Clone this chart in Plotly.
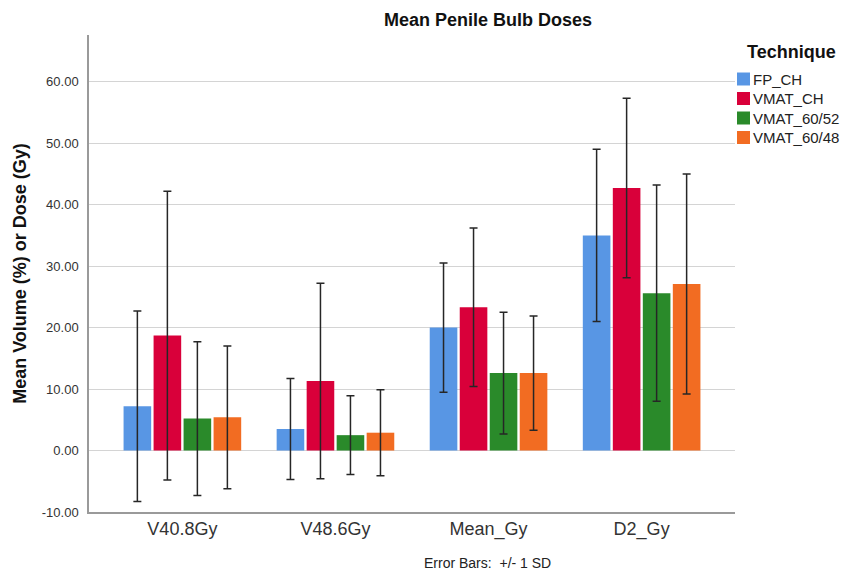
import plotly.graph_objects as go

categories = ["V40.8Gy", "V48.6Gy", "Mean_Gy", "D2_Gy"]
techniques = ["FP_CH", "VMAT_CH", "VMAT_60/52", "VMAT_60/48"]

fp_ch_mean = [7.2, 3.5, 20.0, 35.0]
fp_ch_sd = [15.5, 8.2, 10.5, 14.0]
vmat_ch_mean = [18.7, 11.3, 23.3, 42.7]
vmat_ch_sd = [23.5, 15.9, 12.9, 14.6]
vmat_6052_mean = [5.2, 2.5, 12.6, 25.6]
vmat_6052_sd = [12.5, 6.4, 9.9, 17.6]
vmat_6048_mean = [5.4, 2.9, 12.6, 27.1]
vmat_6048_sd = [11.6, 7.0, 9.3, 17.9]

y_ticks = [-10, 0, 10, 20, 30, 40, 50, 60]
y_tick_labels = [f"{v:.2f}" for v in y_ticks]

means = [fp_ch_mean, vmat_ch_mean, vmat_6052_mean, vmat_6048_mean]
sds = [fp_ch_sd, vmat_ch_sd, vmat_6052_sd, vmat_6048_sd]
colors = ["#5896E4", "#D9003A", "#2A8A2A", "#F26C22"]

FONT = "Arial, Liberation Sans, sans-serif"

# plot-area geometry (pixels) used to place the free texts in paper coords
L, R, T, B = 89, 735, 35, 512
W, H = R - L, B - T


def px(x):
    return (x - L) / W


def py(y):
    return (B - y) / H


fig = go.Figure()
for name, m, s, c in zip(techniques, means, sds, colors):
    fig.add_trace(go.Bar(
        x=categories, y=m, name=name, showlegend=False,
        marker=dict(color=c, line=dict(width=0)),
        error_y=dict(type="data", array=s, visible=True, color="#262626",
                     thickness=1.5, width=4),
    ))

annotations = [
    dict(text="<b>Mean Penile Bulb Doses</b>", xref="paper", yref="paper",
         x=px(488), y=py(20), xanchor="center", yanchor="middle",
         showarrow=False, font=dict(size=18, color="#111111", family=FONT)),
    dict(text="Error Bars:  +/- 1 SD", xref="paper", yref="paper",
         x=px(487), y=py(563), xanchor="center", yanchor="middle",
         showarrow=False, font=dict(size=14, color="#222222", family=FONT)),
    dict(text="<b>Technique</b>", xref="paper", yref="paper",
         x=px(745), y=py(52), xanchor="left", yanchor="middle",
         showarrow=False, font=dict(size=18, color="#111111", family=FONT)),
]
shapes = []
row_y = [79, 98.5, 118, 137.5]
for name, c, yy in zip(techniques, colors, row_y):
    shapes.append(dict(type="rect", xref="paper", yref="paper",
                       x0=px(737), x1=px(750), y0=py(yy + 6.5), y1=py(yy - 6.5),
                       fillcolor=c, line=dict(width=0)))
    annotations.append(dict(text=name, xref="paper", yref="paper",
                            x=px(751), y=py(yy), xanchor="left", yanchor="middle",
                            showarrow=False,
                            font=dict(size=15, color="#222222", family=FONT)))

fig.update_layout(
    width=845, height=575,
    margin=dict(l=L, r=845 - R, t=T, b=575 - B),
    paper_bgcolor="white", plot_bgcolor="white",
    barmode="group", bargap=0.216, bargroupgap=0.08,
    font=dict(family=FONT, color="#222222"),
    showlegend=False,
    annotations=annotations,
    shapes=shapes,
)

fig.update_xaxes(
    range=[-0.61, 3.61], showgrid=False, showline=True, linecolor="#9a9a9a",
    linewidth=1.5, ticks="", automargin=False,
    tickfont=dict(size=18, color="#333333", family=FONT),
)
fig.update_yaxes(
    range=[-10, 67.6], tickvals=y_ticks, ticktext=y_tick_labels,
    showgrid=True, gridcolor="#d4d4d4", gridwidth=1.2,
    zeroline=False, showline=True, linecolor="#9a9a9a", linewidth=1.5,
    ticks="", ticklabelstandoff=6, automargin=False,
    tickfont=dict(size=13, color="#333333", family=FONT),
    title=dict(text="<b>Mean Volume (%) or Dose (Gy)</b>",
               font=dict(size=18, color="#111111", family=FONT), standoff=10),
)

fig.write_html("out.html", config={"displayModeBar": False},
               post_script="document.body.style.margin='0px';")
